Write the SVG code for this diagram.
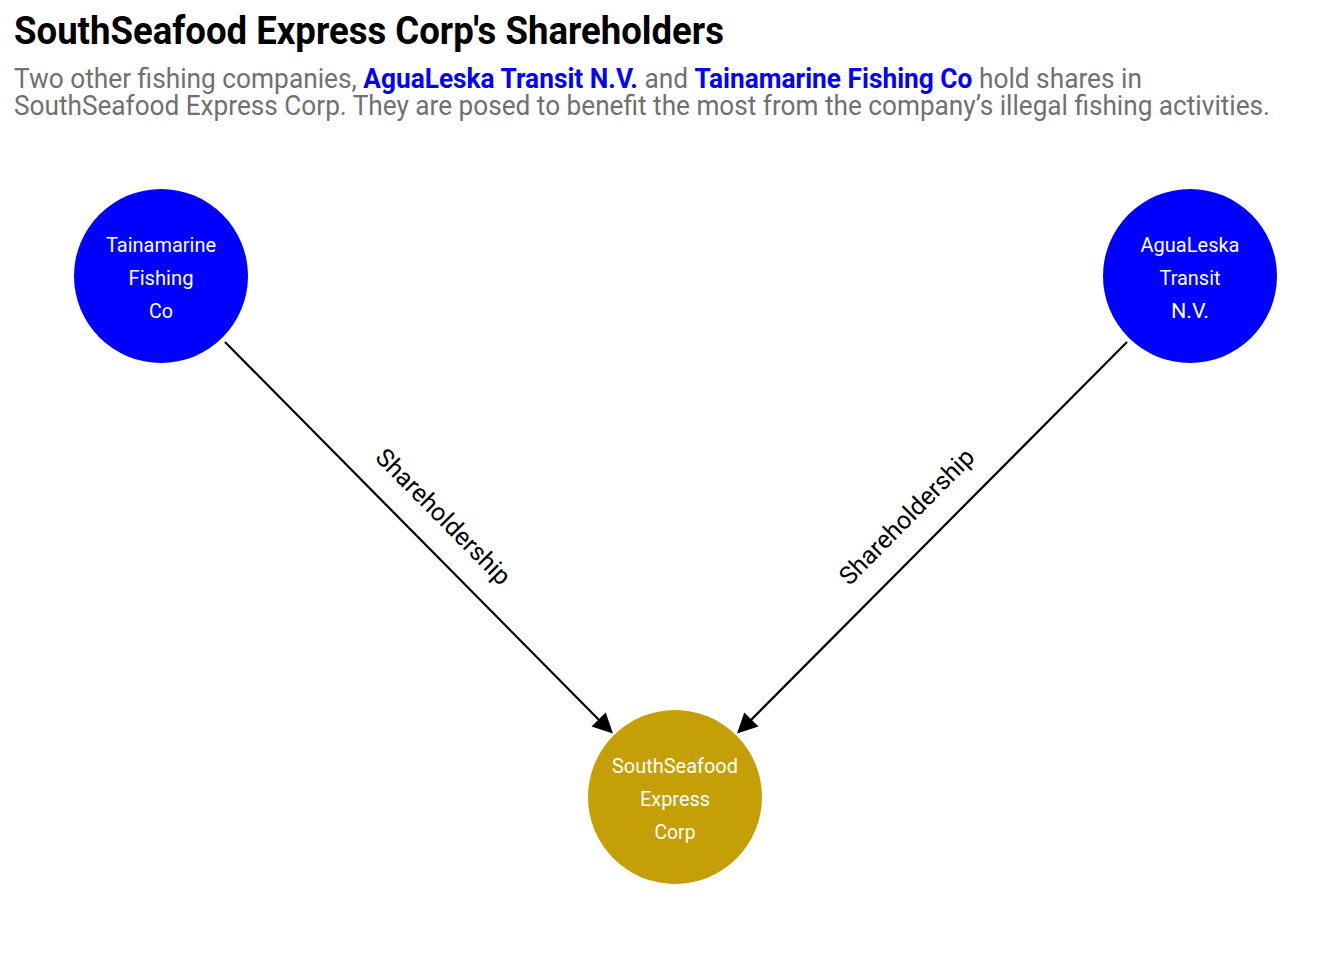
<svg xmlns="http://www.w3.org/2000/svg" width="1344" height="960" viewBox="0 0 1344 960">
<style>
.title{font-family:Roboto,"Liberation Sans",sans-serif;font-weight:bold;font-size:38px;fill:#000}
.sub{font-family:Roboto,"Liberation Sans",sans-serif;font-size:27px;fill:#707070}
.hl{fill:#0000ff;font-weight:bold}
.nl{font-family:Roboto,"Liberation Sans",sans-serif;font-size:21px;fill:#fff;text-anchor:middle}
.el{font-family:Roboto,"Liberation Sans",sans-serif;font-size:25px;fill:#000;text-anchor:middle}
.edge{stroke:#000;stroke-width:2.2;fill:none}
</style>
<rect width="1344" height="960" fill="#fff"/>
<g id="header">
<text class="title" x="14" y="44" textLength="710" lengthAdjust="spacingAndGlyphs">SouthSeafood Express Corp's Shareholders</text>
<text class="sub" x="14" y="88" textLength="1128" lengthAdjust="spacingAndGlyphs">Two other fishing companies, <tspan class="hl">AguaLeska Transit N.V.</tspan> and <tspan class="hl">Tainamarine Fishing Co</tspan> hold shares in</text>
<text class="sub" x="14" y="115" textLength="1256" lengthAdjust="spacingAndGlyphs">SouthSeafood Express Corp. They are posed to benefit the most from the company’s illegal fishing activities.</text>
</g>
<g id="edges">
<g id="edge-tainamarine">
<line class="edge" x1="225" y1="342" x2="603" y2="724"/>
<polygon points="613,733.5 591.5,726.5 605.7,712.5" fill="#000"/>
<text class="el" transform="translate(443,517) rotate(45.3)" x="0" y="8" textLength="180" lengthAdjust="spacingAndGlyphs">Shareholdership</text>
</g>
<g id="edge-agualeska">
<line class="edge" x1="1127" y1="342" x2="747" y2="724"/>
<polygon points="737,733.5 744.3,712.5 758.5,726.5" fill="#000"/>
<text class="el" transform="translate(907,517) rotate(-45.3)" x="0" y="8" textLength="180" lengthAdjust="spacingAndGlyphs">Shareholdership</text>
</g>
</g>
<g id="node-tainamarine">
<circle cx="161" cy="276" r="87" fill="#0000ff"/>
<text class="nl" x="161" y="252" textLength="110" lengthAdjust="spacingAndGlyphs">Tainamarine</text>
<text class="nl" x="161" y="285" textLength="65" lengthAdjust="spacingAndGlyphs">Fishing</text>
<text class="nl" x="161" y="318" textLength="24" lengthAdjust="spacingAndGlyphs">Co</text>
</g>
<g id="node-agualeska">
<circle cx="1190" cy="276" r="87" fill="#0000ff"/>
<text class="nl" x="1190" y="252" textLength="99" lengthAdjust="spacingAndGlyphs">AguaLeska</text>
<text class="nl" x="1190" y="285" textLength="61" lengthAdjust="spacingAndGlyphs">Transit</text>
<text class="nl" x="1190" y="318" textLength="38" lengthAdjust="spacingAndGlyphs">N.V.</text>
</g>
<g id="node-southseafood">
<circle cx="675" cy="797" r="87" fill="#c4a006"/>
<text class="nl" x="675" y="773" textLength="126" lengthAdjust="spacingAndGlyphs">SouthSeafood</text>
<text class="nl" x="675" y="806" textLength="70" lengthAdjust="spacingAndGlyphs">Express</text>
<text class="nl" x="675" y="839" textLength="41" lengthAdjust="spacingAndGlyphs">Corp</text>
</g>
</svg>
